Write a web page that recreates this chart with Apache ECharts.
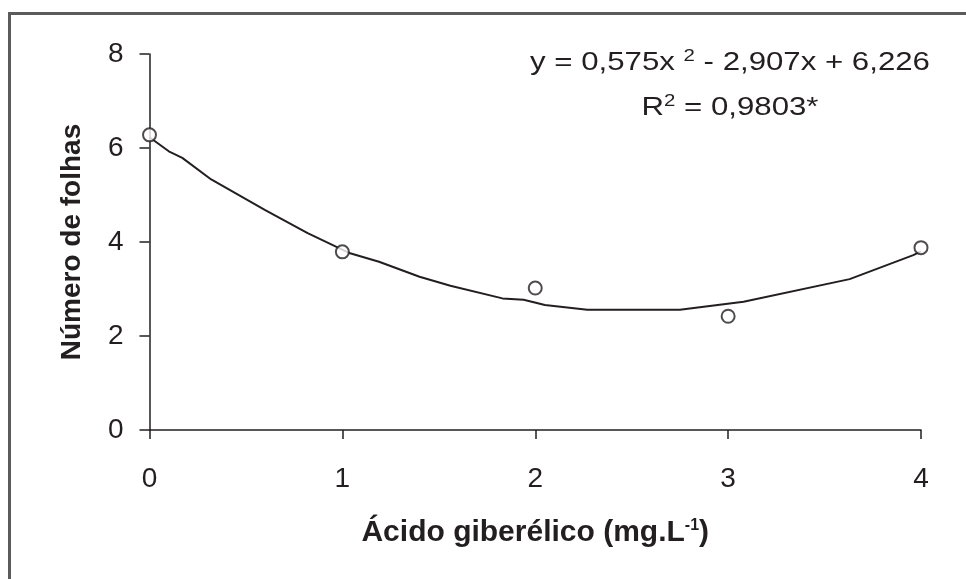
<!DOCTYPE html>
<html>
<head>
<meta charset="utf-8">
<script src="https://cdn.jsdelivr.net/npm/echarts@6/dist/echarts.min.js"></script>
<style>
html,body{margin:0;padding:0;background:#fff;}
#chart{width:966px;height:579px;}
</style>
</head>
<body>
<div id="chart"></div>
<script>
// Observed points
const doseX = [0, 1, 2, 3, 4];
const leaves = [6.28, 3.79, 3.02, 2.42, 3.88];
// Fitted curve as drawn
const fitX = [0, 0.10, 0.17, 0.32, 0.60, 0.82, 1.04, 1.19, 1.40, 1.56, 1.83, 1.94, 2.05, 2.27, 2.75, 3.08, 3.63, 3.96, 4.0];
const fitY = [6.23, 5.93, 5.79, 5.33, 4.68, 4.19, 3.76, 3.58, 3.26, 3.07, 2.80, 2.77, 2.66, 2.56, 2.56, 2.73, 3.21, 3.72, 3.80];
const xTicks = [0, 1, 2, 3, 4];
const yTicks = [0, 2, 4, 6, 8];

const ink = '#231f20';
const font = 'Liberation Sans, Arial';
const chart = echarts.init(document.getElementById('chart'), null, {renderer: 'canvas'});

const pts = doseX.map((x, i) => [x, leaves[i]]);
const fit = fitX.map((x, i) => [x, fitY[i]]);

chart.setOption({
  animation: false,
  backgroundColor: '#ffffff',
  grid: {left: 149.5, right: 45, top: 54, bottom: 149, containLabel: false},
  xAxis: {
    type: 'value', min: xTicks[0], max: xTicks[xTicks.length - 1], interval: 1,
    axisLine: {onZero: false, lineStyle: {color: ink, width: 1.5}},
    axisTick: {show: true, length: 9, lineStyle: {color: ink, width: 1.5}},
    axisLabel: {color: ink, fontFamily: font, fontSize: 28, margin: 35},
    splitLine: {show: false},
    name: '{t|Ácido giberélico (mg.L}{s|-1}{t|)}',
    nameLocation: 'middle', nameGap: 88,
    nameTextStyle: {
      rich: {
        t: {fontFamily: font, fontWeight: 'bold', fontSize: 30, color: ink},
        s: {fontFamily: font, fontWeight: 'bold', fontSize: 16, color: ink, verticalAlign: 'top', padding: [0, 0, 14, 0]}
      }
    }
  },
  yAxis: {
    type: 'value', min: yTicks[0], max: yTicks[yTicks.length - 1], interval: 2,
    axisLine: {show: true, onZero: false, lineStyle: {color: ink, width: 1.5}},
    axisTick: {show: true, length: 10, lineStyle: {color: ink, width: 1.5}},
    axisLabel: {color: ink, fontFamily: font, fontSize: 28, margin: 26},
    splitLine: {show: false},
    name: 'Número de folhas',
    nameLocation: 'middle', nameGap: 63, nameRotate: 90,
    nameTextStyle: {fontFamily: font, fontWeight: 'bold', fontSize: 28, color: ink}
  },
  series: [
    {
      type: 'line', data: fit, showSymbol: false, smooth: false,
      lineStyle: {color: ink, width: 2}, z: 2, silent: true
    },
    {
      type: 'scatter', data: pts, symbol: 'circle', symbolSize: 13,
      itemStyle: {color: '#ffffff', borderColor: ink, borderWidth: 2}, z: 3
    }
  ],
  graphic: [
    {type: 'line', shape: {x1: 8, y1: 13.5, x2: 966, y2: 13.5}, style: {stroke: '#5b5b5b', lineWidth: 3}},
    {type: 'line', shape: {x1: 9.5, y1: 12, x2: 9.5, y2: 579}, style: {stroke: '#5b5b5b', lineWidth: 3}},
    {
      type: 'text', x: 730, y: 63, scaleX: 1.2, originX: 0, originY: 0,
      style: {
        text: '{n|y = 0,575x }{s|2}{n| - 2,907x + 6,226}',
        align: 'center', verticalAlign: 'middle',
        rich: {
          n: {fontFamily: font, fontSize: 26, fill: ink},
          s: {fontFamily: font, fontSize: 17, fill: ink, verticalAlign: 'top', padding: [0, 0, 14, 0]}
        }
      }
    },
    {
      type: 'text', x: 730, y: 108, scaleX: 1.2, originX: 0, originY: 0,
      style: {
        text: '{n|R}{s|2}{n| = 0,9803*}',
        align: 'center', verticalAlign: 'middle',
        rich: {
          n: {fontFamily: font, fontSize: 26, fill: ink},
          s: {fontFamily: font, fontSize: 17, fill: ink, verticalAlign: 'top', padding: [0, 0, 14, 0]}
        }
      }
    }
  ]
});
</script>
</body>
</html>
